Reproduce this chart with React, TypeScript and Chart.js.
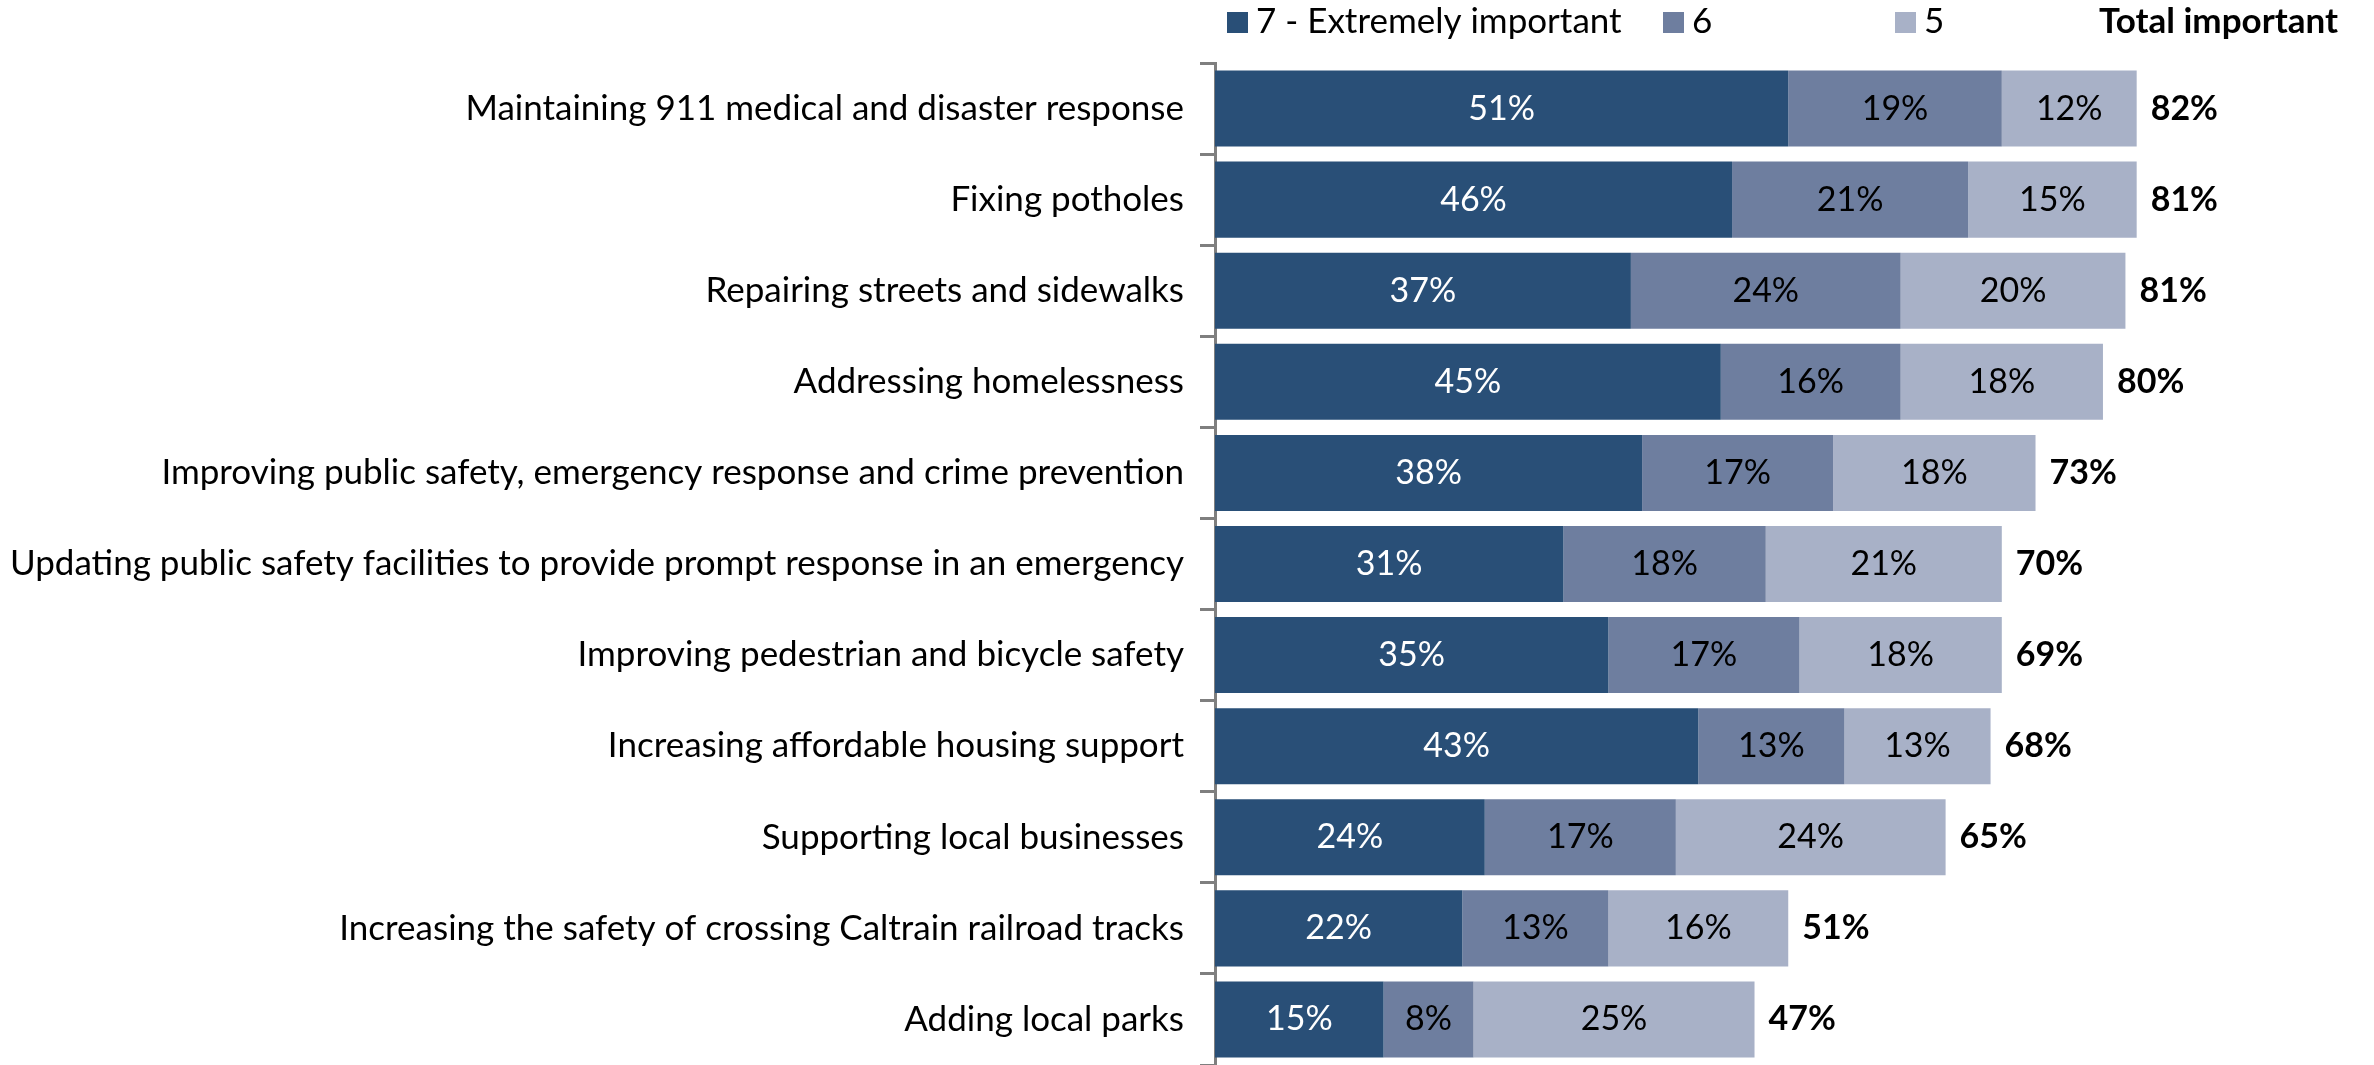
import React, { useEffect, useRef } from "react";
import { Chart, registerables } from "chart.js";

Chart.register(...registerables);

const categories = [
  "Maintaining 911 medical and disaster response",
  "Fixing potholes",
  "Repairing streets and sidewalks",
  "Addressing homelessness",
  "Improving public safety, emergency response and crime prevention",
  "Updating public safety facilities to provide prompt response in an emergency",
  "Improving pedestrian and bicycle safety",
  "Increasing affordable housing support",
  "Supporting local businesses",
  "Increasing the safety of crossing Caltrain railroad tracks",
  "Adding local parks",
];

const seriesLabels = ["7 - Extremely important", "6", "5"];
const totalLabel = "Total important";

const extremely = [51, 46, 37, 45, 38, 31, 35, 43, 24, 22, 15];
const six = [19, 21, 24, 16, 17, 18, 17, 13, 17, 13, 8];
const five = [12, 15, 20, 18, 18, 21, 18, 13, 24, 16, 25];
const totals = [82, 81, 81, 80, 73, 70, 69, 68, 65, 51, 47];

const COLORS = ["#294F77", "#6E7E9F", "#A8B1C7"];
const LABEL_COLORS = ["#FFFFFF", "#000000", "#000000"];
const FONT = "Lato";
const FS = 35;
const VFS = 34;

const labelsPlugin = {
  id: "valueLabels",
  afterDatasetsDraw(chart: any) {
    const ctx = chart.ctx;
    ctx.save();
    ctx.textBaseline = "middle";
    chart.data.datasets.forEach((ds: any, di: number) => {
      const meta = chart.getDatasetMeta(di);
      meta.data.forEach((el: any, i: number) => {
        const v = ds.data[i];
        ctx.font = `${VFS}px ${FONT}`;
        ctx.fillStyle = LABEL_COLORS[di];
        ctx.textAlign = "center";
        ctx.fillText(`${v}%`, (el.x + el.base) / 2, el.y);
        if (di === chart.data.datasets.length - 1) {
          ctx.font = `bold ${VFS}px ${FONT}`;
          ctx.fillStyle = "#000000";
          ctx.textAlign = "left";
          ctx.fillText(`${totals[i]}%`, el.x + 14, el.y);
        }
      });
    });
    ctx.restore();
  },
};

const legendPlugin = {
  id: "customLegend",
  afterDraw(chart: any) {
    const ctx = chart.ctx;
    ctx.save();
    ctx.textBaseline = "middle";
    const y = 22;
    const items = [
      { sq: 1227, tx: 1256 },
      { sq: 1663, tx: 1692 },
      { sq: 1895, tx: 1924 },
    ];
    items.forEach((it, i) => {
      ctx.fillStyle = COLORS[i];
      ctx.fillRect(it.sq, y - 10, 21, 21);
      ctx.fillStyle = "#000000";
      ctx.font = `${FS}px ${FONT}`;
      ctx.textAlign = "left";
      ctx.fillText(seriesLabels[i], it.tx, y);
    });
    ctx.font = `bold ${FS}px ${FONT}`;
    ctx.textAlign = "right";
    ctx.fillText(totalLabel, 2338, y);
    ctx.restore();
  },
};

export default function App() {
  const ref = useRef<HTMLCanvasElement | null>(null);
  useEffect(() => {
    if (!ref.current) return;
    const chart = new Chart(ref.current, {
      type: "bar",
      data: {
        labels: categories,
        datasets: [
          { label: seriesLabels[0], data: extremely, backgroundColor: COLORS[0] },
          { label: seriesLabels[1], data: six, backgroundColor: COLORS[1] },
          { label: seriesLabels[2], data: five, backgroundColor: COLORS[2] },
        ],
      },
      options: {
        indexAxis: "y",
        animation: false,
        responsive: false,
        devicePixelRatio: 1,
        layout: { padding: { top: 63, right: 35, bottom: 0, left: 0 } },
        datasets: { bar: { categoryPercentage: 1, barPercentage: 0.835 } },
        plugins: { legend: { display: false }, tooltip: { enabled: false } },
        scales: {
          x: { stacked: true, min: 0, max: 100, display: false },
          y: {
            stacked: true,
            afterFit(scale: any) {
              scale.width = 1215;
              scale.paddingTop = 0;
              scale.paddingBottom = 0;
            },
            border: { display: true, color: "#7F7F7F", width: 3 },
            grid: {
              display: true,
              drawOnChartArea: false,
              drawTicks: true,
              tickLength: 15,
              color: "#7F7F7F",
              lineWidth: 3,
              offset: true,
            },
            ticks: {
              color: "#000000",
              padding: 16,
              font: { family: FONT, size: FS },
              autoSkip: false,
            },
          },
        },
      },
      plugins: [labelsPlugin, legendPlugin],
    });
    return () => chart.destroy();
  }, []);
  return (
    <div style={{ position: "fixed", left: 0, top: 0, width: 2374, height: 1065, background: "#fff" }}>
      <canvas ref={ref} width={2374} height={1065} style={{ width: 2374, height: 1065 }} />
    </div>
  );
}
